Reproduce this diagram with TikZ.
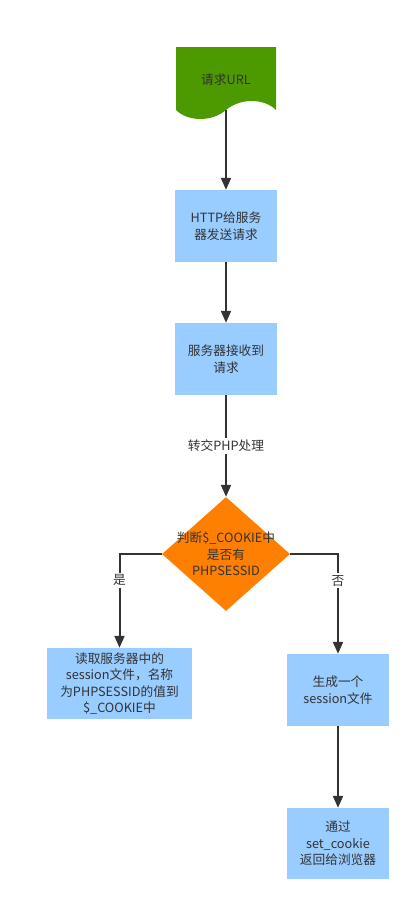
\documentclass[tikz,border=0pt]{standalone}
\usepackage{fontspec}
\setmainfont{Noto Sans CJK SC}
\usetikzlibrary{arrows.meta,shapes.geometric}
\definecolor{startgreen}{HTML}{4D9900}
\definecolor{boxblue}{HTML}{99CCFF}
\definecolor{judgeorange}{HTML}{FF8000}
\definecolor{linegray}{HTML}{333333}
\begin{document}
\begin{tikzpicture}[x=1pt, y=-1pt,
                    every node/.style={font=\fontsize{12.7}{16.5}\selectfont, text=linegray, align=center},
                    box/.style={fill=boxblue, minimum width=102pt, minimum height=72pt, inner sep=2pt},
                    judge/.style={diamond, fill=judgeorange, minimum width=128pt, minimum height=114pt, inner sep=0pt},
                    flow/.style={draw=linegray, line width=2pt, -{Triangle[length=12pt,width=10pt]}},
                    tag/.style={fill=white, inner sep=2pt}]
  \useasboundingbox (0,0) rectangle (420,910);
  \fill[startgreen] (176,47) -- (276,47) -- (276,110)
    .. controls (264,98) and (240,98) .. (226,110)
    .. controls (212,122) and (188,122) .. (176,110) -- cycle;
  \node (url) at (226,80) {请求URL};
  \coordinate (urlend) at (226,110);
  \node[box] (http) at (226,226) {HTTP给服务\\器发送请求};
  \node[box] (recv) at (226,359) {服务器接收到\\请求};
  \node[judge] (check) at (226,554) {};
  \node (checktext) at (check) {判断\$\_COOKIE中\\是否有\\PHPSESSID};
  \node[box, minimum width=145pt, minimum height=71pt] (readsess) at (119.5,683.5)
    {读取服务器中的\\session文件，名称\\为PHPSESSID的值到\\\$\_COOKIE中};
  \node[box] (newsess) at (338,690) {生成一个\\session文件};
  \node[box, minimum height=71pt] (setck) at (338,843.5) {通过\\set\_cookie\\返回给浏览器};
  \draw[flow] (urlend) -- (http);
  \draw[flow] (http) -- (recv);
  \draw[flow] (recv) -- node[tag] {转交PHP处理} (check.north);
  \draw[flow] (check.west) -| node[tag, pos=0.64] {是} (readsess.north);
  \draw[flow] (check.east) -| node[tag, pos=0.635] {否} (newsess.north);
  \draw[flow] (newsess) -- (setck);
\end{tikzpicture}
\end{document}
